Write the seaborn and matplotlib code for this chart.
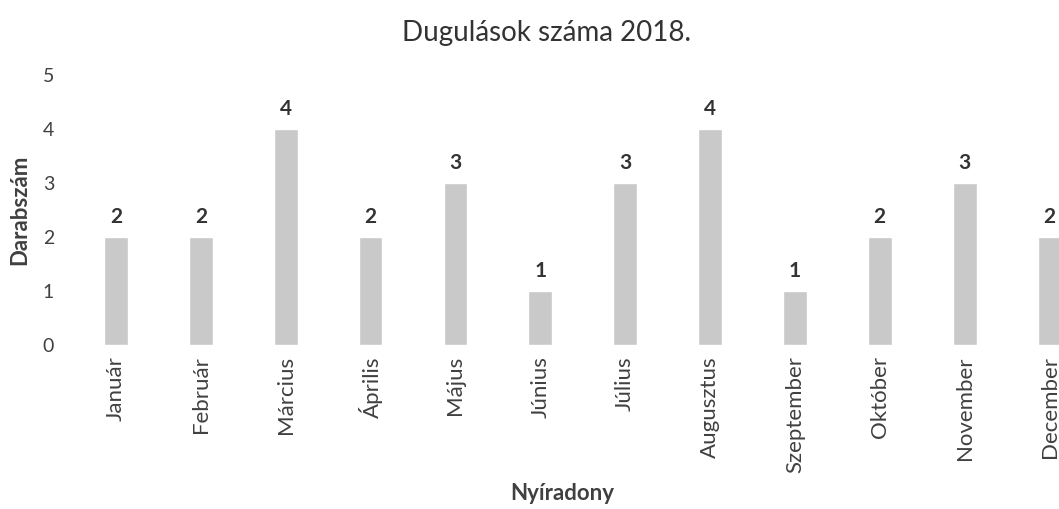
import matplotlib
matplotlib.use("Agg")
import matplotlib.pyplot as plt
import pandas as pd
import seaborn as sns

months = ["Január", "Február", "Március", "Április", "Május", "Június",
          "Július", "Augusztus", "Szeptember", "Október", "November", "December"]
counts = [2, 2, 4, 2, 3, 1, 3, 4, 1, 2, 3, 2]

df = pd.DataFrame({"Hónap": months, "Darab": counts})

sns.set_style("white")
plt.rcParams['font.family'] = ['Lato', 'DejaVu Sans']

fig = plt.figure(figsize=(10.59, 5.09), dpi=100)
# axes runs past the right edge, so the December bar gets cut like in the original
ax = fig.add_axes([73.5 / 1059, 164 / 509, 1018.5 / 1059, 270 / 509])

sns.barplot(data=df, x="Hónap", y="Darab", color="#c9c9c9", width=0.28,
            saturation=1, ax=ax)
ax.bar_label(ax.containers[0], padding=7, fontsize=15, fontweight="bold",
             color="#333333")

ax.set_ylim(0, 5)
ax.set_yticks(range(6))
ax.tick_params(axis="y", labelsize=14, labelcolor="#404040", length=0, pad=14)
ax.tick_params(axis="x", labelsize=16, labelcolor="#404040", length=0,
               rotation=90, pad=8)
sns.despine(ax=ax, left=True, bottom=True)

ax.set_xlabel("Nyíradony", fontsize=16, fontweight="bold", color="#404040",
              va="center")
ax.set_ylabel("Darabszám", fontsize=16, fontweight="bold", color="#404040",
              va="center")
ax.xaxis.set_label_coords((562 - 73.5) / 1018.5, -(493 - 345) / 270)
ax.yaxis.set_label_coords(-(73.5 - 20) / 1018.5, 0.5)

fig.suptitle("Dugulások száma 2018.", x=546 / 1059, y=1 - 33 / 509,
             fontsize=20, color="#333333", va="center")

fig.savefig("out.png")
